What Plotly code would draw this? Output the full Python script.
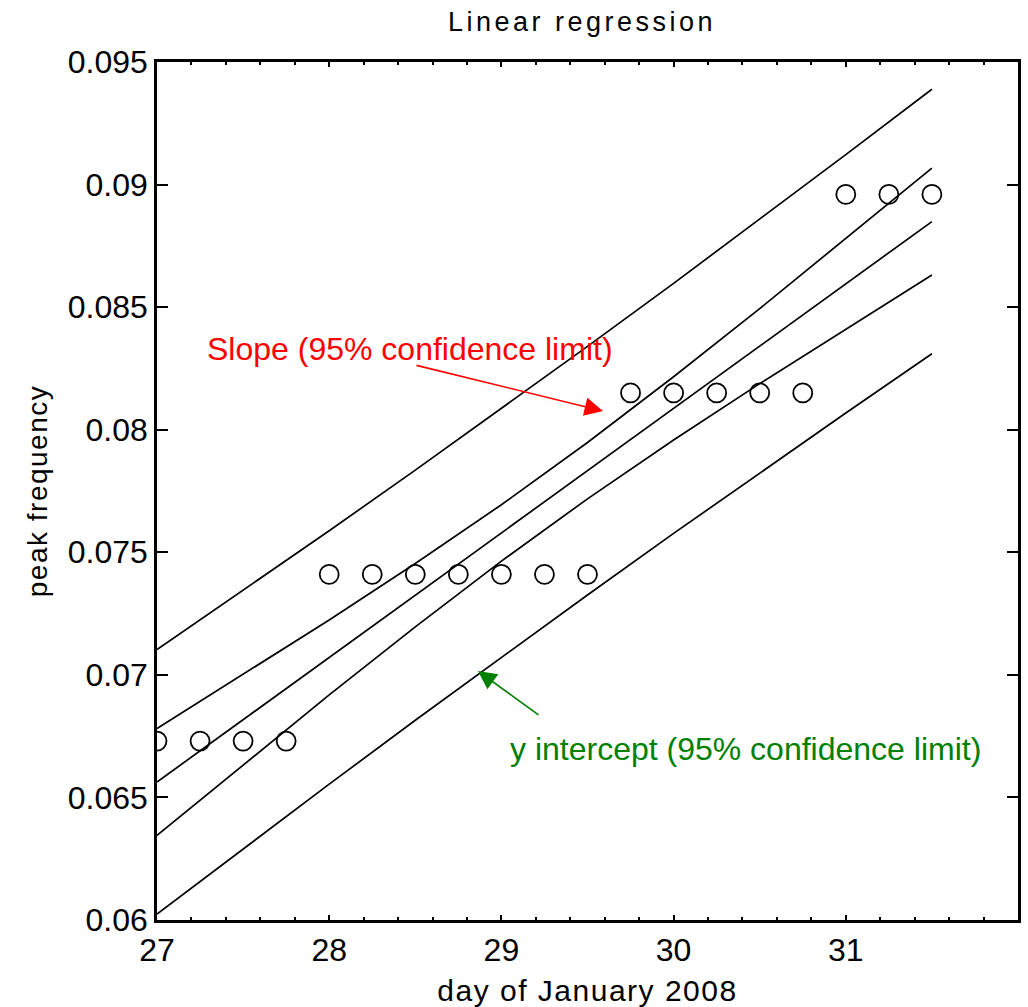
import plotly.graph_objects as go

# Observations: peak frequency per quarter-day
days = [27.0, 27.25, 27.5, 27.75, 28.0, 28.25, 28.5, 28.75, 29.0, 29.25,
        29.5, 29.75, 30.0, 30.25, 30.5, 30.75, 31.0, 31.25, 31.5]
peak_freq = [0.0673, 0.0673, 0.0673, 0.0673, 0.0741, 0.0741, 0.0741, 0.0741,
             0.0741, 0.0741, 0.0741, 0.0815, 0.0815, 0.0815, 0.0815, 0.0815,
             0.0896, 0.0896, 0.0896]

# Regression line and its 95% bands
fit_days = [27.0, 27.5, 28.0, 28.5, 29.0, 29.5, 30.0, 30.5, 31.0, 31.5]
fit_line = [0.06563, 0.06817, 0.07071, 0.07325, 0.07579, 0.07833, 0.08087,
            0.08341, 0.08595, 0.08849]
inner_upper = [0.06781, 0.07001, 0.07224, 0.07454, 0.07694, 0.07948, 0.08216,
               0.08494, 0.08779, 0.09067]
inner_lower = [0.06345, 0.06633, 0.06918, 0.07196, 0.07464, 0.07718, 0.07958,
               0.08188, 0.08411, 0.08631]
outer_upper = [0.07103, 0.07344, 0.07588, 0.07835, 0.08086, 0.08340, 0.08597,
               0.08858, 0.09122, 0.09389]
outer_lower = [0.06024, 0.06290, 0.06554, 0.06815, 0.07072, 0.07326, 0.07577,
               0.07824, 0.08068, 0.08310]

x_tick_vals = [27, 28, 29, 30, 31]
x_tick_text = ["27", "28", "29", "30", "31"]
y_tick_vals = [0.06, 0.065, 0.07, 0.075, 0.08, 0.085, 0.09, 0.095]
y_tick_text = ["0.06", "0.065", "0.07", "0.075", "0.08", "0.085", "0.09", "0.095"]

FONT = "Liberation Sans, Arial, sans-serif"


def spaced(text, px):
    return f"<span style='letter-spacing:{px}px'>{text}</span>"


fig = go.Figure()

for band in (outer_upper, inner_upper, fit_line, inner_lower, outer_lower):
    fig.add_trace(go.Scatter(
        x=fit_days, y=band, mode="lines",
        line=dict(color="black", width=1.7),
        showlegend=False, hoverinfo="skip",
    ))

fig.add_trace(go.Scatter(
    x=days, y=peak_freq, mode="markers",
    marker=dict(symbol="circle-open", size=19, color="black",
                line=dict(color="black", width=1.8)),
    showlegend=False,
))

# Labels with arrows pointing at the bands
fig.add_annotation(x=28.469, y=0.08329, text="Slope (95% confidence limit)",
                   showarrow=False, font=dict(family=FONT, size=32, color="red"))
fig.add_annotation(x=29.59, y=0.08076, ax=28.498, ay=0.08264,
                   axref="x", ayref="y", text="", showarrow=True,
                   arrowhead=2, arrowsize=2.3, arrowwidth=1.6, arrowcolor="red")
fig.add_annotation(x=30.42, y=0.06698, text="y intercept (95% confidence limit)",
                   showarrow=False, font=dict(family=FONT, size=32, color="green"))
fig.add_annotation(x=28.864, y=0.07016, ax=29.224, ay=0.06832,
                   axref="x", ayref="y", text="", showarrow=True,
                   arrowhead=2, arrowsize=2.3, arrowwidth=1.6, arrowcolor="green")

fig.update_layout(
    width=1028, height=1007,
    margin=dict(l=157, r=10, t=62, b=87),
    paper_bgcolor="white", plot_bgcolor="white",
    font=dict(family=FONT, color="black"),
    title=dict(text=spaced("Linear regression", 3.5), x=582 / 1028, xanchor="center",
               y=1 - 22 / 1007, yanchor="middle", yref="container",
               font=dict(family=FONT, size=27, color="black")),
)

fig.update_xaxes(
    range=[27, 32], showgrid=False, zeroline=False,
    showline=True, linecolor="black", linewidth=2.5, mirror="allticks",
    ticks="inside", ticklen=5, tickwidth=2, tickcolor="black",
    tickvals=x_tick_vals, ticktext=x_tick_text,
    tickfont=dict(family=FONT, size=32, color="black"),
    minor=dict(dtick=0.2, ticks="inside", ticklen=3, tickwidth=1.5, tickcolor="black"),
    title=dict(text=spaced("day of January 2008", 1.5), standoff=14,
               font=dict(family=FONT, size=30, color="black")),
    automargin=False,
)
fig.update_yaxes(
    range=[0.06, 0.095], showgrid=False, zeroline=False,
    showline=True, linecolor="black", linewidth=2.5, mirror="allticks",
    ticks="inside", ticklen=11, tickwidth=1.5, tickcolor="black",
    tickvals=y_tick_vals, ticktext=y_tick_text,
    tickfont=dict(family=FONT, size=32, color="black"),
    title=dict(text=spaced("peak frequency", 1.5), standoff=12,
               font=dict(family=FONT, size=28, color="black")),
    automargin=False,
)

fig.write_html("out.html")
